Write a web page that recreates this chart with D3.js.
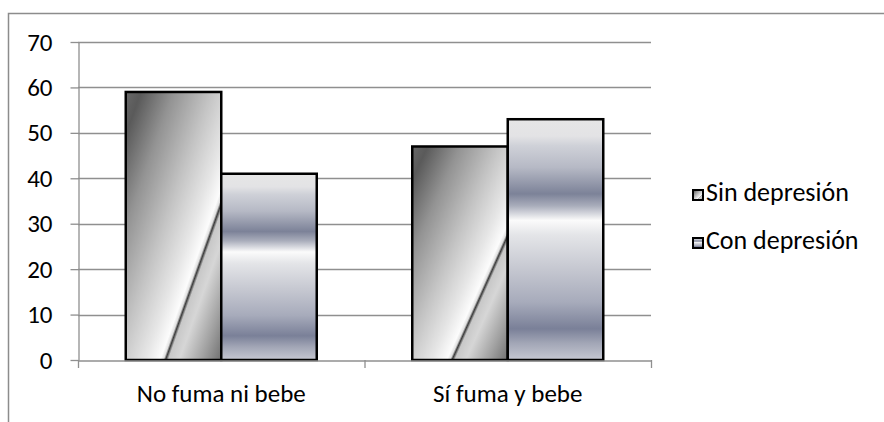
<!DOCTYPE html>
<html><head><meta charset="utf-8">
<script src="https://cdn.jsdelivr.net/npm/d3@7"></script>
<style>body{margin:0;background:#fff}svg{display:block}</style>
</head><body>
<svg id="c" width="884" height="422"></svg>
<script>
const categories = ["No fuma ni bebe", "Sí fuma y bebe"];
const seriesNames = ["Sin depresión", "Con depresión"];
const sinValues = [59, 47];
const conValues = [41, 53];
const yTicks = [0, 10, 20, 30, 40, 50, 60, 70];

const svg = d3.select("#c");
const font = "Carlito, Calibri, 'Open Sans', sans-serif";
const fs = 25;
const L = 78, R = 651, T = 42, B = 360;

const defs = svg.append("defs");
const g1 = defs.append("linearGradient").attr("id","gSin")
  .attr("x1",0).attr("y1",0).attr("x2",1).attr("y2",1);
[[0,"#686868"],[0.08,"#5a5a5a"],[0.25,"#939393"],[0.45,"#c4c4c4"],[0.6,"#e6e6e6"],[0.68,"#fcfcfc"],[0.697,"#e0e0e0"],[0.708,"#3a3a3a"],[0.722,"#c8c8c8"],[0.78,"#d6d6d6"],[0.9,"#a0a0a0"],[1,"#707070"]]
  .forEach(([o,c])=>g1.append("stop").attr("offset",o).attr("stop-color",c));
const g2 = defs.append("linearGradient").attr("id","gCon")
  .attr("x1",0).attr("y1",0).attr("x2",0).attr("y2",1);
[[0,"#e6e6e6"],[0.07,"#e3e3e5"],[0.11,"#cfd1d8"],[0.2,"#b6b9c5"],[0.31,"#7c8298"],[0.36,"#a9adbb"],[0.42,"#fbfbfb"],[0.48,"#e4e5e8"],[0.62,"#c6c8d1"],[0.76,"#a7abbb"],[0.87,"#7a8098"],[0.93,"#a2a6b6"],[1,"#c6c8d2"]]
  .forEach(([o,c])=>g2.append("stop").attr("offset",o).attr("stop-color",c));

// outer frame
svg.append("path").attr("d","M8.5,422 V13.5 H884").attr("fill","none").attr("stroke","#8c8c8c").attr("stroke-width",1.5);

const y = d3.scaleLinear().domain([0,70]).range([B,T]);
const x0 = d3.scaleBand().domain(categories).range([L,R]).paddingInner(0).paddingOuter(0);
const x1 = d3.scaleBand().domain(seriesNames).range([0,x0.bandwidth()]).paddingOuter(0.5).paddingInner(0);

// gridlines
svg.append("g").selectAll("line").data(yTicks.filter(d=>d>0)).join("line")
  .attr("x1",L).attr("x2",R).attr("y1",d=>Math.round(y(d))+0.5).attr("y2",d=>Math.round(y(d))+0.5)
  .attr("stroke","#8f8f8f").attr("stroke-width",1.3);

// y axis
const ya = svg.append("g").attr("transform",`translate(${L+0.5},0)`)
  .call(d3.axisLeft(y).tickValues(yTicks).tickSize(8).tickPadding(18).tickSizeOuter(0));
ya.select(".domain").attr("stroke","#8f8f8f").attr("stroke-width",1.3);
ya.selectAll(".tick line").attr("stroke","#8f8f8f").attr("stroke-width",1.3);
ya.selectAll("text").attr("font-family",font).attr("font-size",fs).attr("fill","#000");

// bars
const data = categories.map((c,i)=>({c, vals:[{s:seriesNames[0],v:sinValues[i]},{s:seriesNames[1],v:conValues[i]}]}));
const grp = svg.append("g").selectAll("g").data(data).join("g")
  .attr("transform",d=>`translate(${x0(d.c)},0)`);
grp.selectAll("rect").data(d=>d.vals).join("rect")
  .attr("x",d=>x1(d.s)).attr("width",x1.bandwidth())
  .attr("y",d=>y(d.v)).attr("height",d=>B-y(d.v))
  .attr("fill",d=>d.s===seriesNames[0]?"url(#gSin)":"url(#gCon)")
  .attr("stroke","#000").attr("stroke-width",2.5);

// x axis
const xa = svg.append("g").attr("transform",`translate(0,${B+0.5})`)
  .call(d3.axisBottom(x0).tickSize(0).tickPadding(24));
xa.select(".domain").attr("stroke","#8f8f8f").attr("stroke-width",1.3);
xa.selectAll("text").attr("font-family",font).attr("font-size",fs).attr("fill","#000");
svg.append("g").selectAll("line").data([L, L+x0.bandwidth(), R]).join("line")
  .attr("x1",d=>d+0.5).attr("x2",d=>d+0.5).attr("y1",B).attr("y2",B+8)
  .attr("stroke","#8f8f8f").attr("stroke-width",1.3);

// legend
const leg = svg.append("g").selectAll("g").data(seriesNames).join("g")
  .attr("transform",(d,i)=>`translate(692,${189+i*48})`);
leg.append("rect").attr("x",1).attr("y",1).attr("width",10).attr("height",10)
  .attr("fill",(d,i)=>i===0?"url(#gSin)":"url(#gCon)").attr("stroke","#000").attr("stroke-width",2);
leg.append("text").attr("x",14).attr("y",12).text(d=>d)
  .attr("font-family",font).attr("font-size",26).attr("fill","#000");
</script>
</body></html>
